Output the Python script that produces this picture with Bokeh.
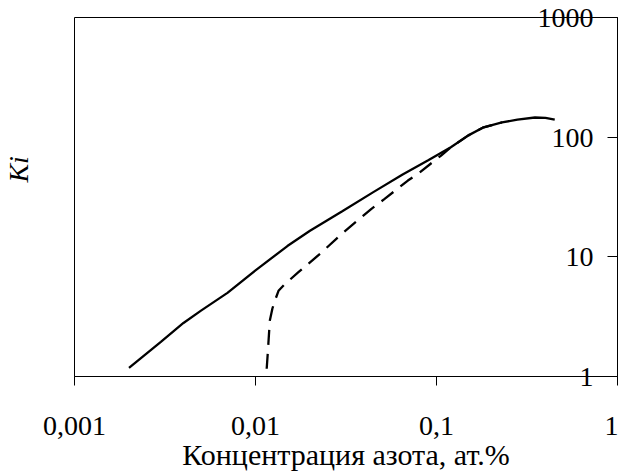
import math
from bokeh.plotting import figure
from bokeh.models import (Range1d, FixedTicker, CustomJSTickFormatter,
                          LinearAxis, LinearScale)
from bokeh.embed import file_html
from bokeh.resources import INLINE

# Solid curve
solid_x = [0.0020, 0.0030, 0.0040, 0.0050, 0.0070, 0.0100, 0.0150, 0.0200,
           0.0300, 0.0450, 0.0650, 0.0900, 0.1200, 0.1500, 0.1800, 0.2300,
           0.2800, 0.3500, 0.4000, 0.4500]
solid_y = [1.18, 1.95, 2.80, 3.55, 5.0, 7.7, 12.3, 16.5,
           23.9, 34.9, 48.7, 64.0, 82.4, 103.5, 120.0, 133.0,
           140.0, 146.0, 145.0, 140.0]

# Dashed curve
dash_x = [0.01153, 0.0117, 0.0120, 0.0124, 0.0128, 0.0134, 0.0145, 0.0172,
          0.0232, 0.0300, 0.0437, 0.0517, 0.0695, 0.0789, 0.1060, 0.1200,
          0.1500, 0.1800, 0.2300]
dash_y = [1.16, 1.6, 2.94, 3.7, 4.3, 5.2, 5.9, 7.4,
          10.9, 15.6, 25.2, 30.5, 43.4, 49.4, 70.2, 82.4,
          103.5, 120.0, 133.0]

x_ticks = [0.001, 0.01, 0.1, 1]
x_tick_labels = ["0,001", "0,01", "0,1", "1"]
y_ticks = [1, 10, 100, 1000]
y_tick_labels = ["1", "10", "100", "1000"]

x_title = "Концентрация азота, ат.%"
y_title = "Ki"
y_title_pos = 0.577   # fraction of plot height (from bottom) where "Ki" sits

FONT = "Liberation Serif"
FS = "28px"
DIGIT_W = 14          # width of one digit at 28px
FIG_SPACE = "\u2007"  # digit-wide space, used to right-align the inner labels

p = figure(width=618, height=473, x_axis_type="log", y_axis_type="log",
           x_range=Range1d(x_ticks[0], x_ticks[-1]),
           y_range=Range1d(y_ticks[0], y_ticks[-1]),
           y_axis_location="right", output_backend="svg",
           toolbar_location=None, title=None,
           min_border_left=72, min_border_right=1, min_border_top=17,
           min_border_bottom=97)

p.background_fill_color = "white"
p.border_fill_color = "white"
p.outline_line_color = "black"
p.outline_line_width = 1
p.grid.visible = False

# bottom axis
xa = p.xaxis[0]
xa.ticker = FixedTicker(ticks=x_ticks)
xa.formatter = CustomJSTickFormatter(args=dict(tv=x_ticks, tl=x_tick_labels), code="""
let best = 0, d = Infinity;
for (let i = 0; i < tv.length; i++) {
  const e = Math.abs(Math.log10(tv[i]) - Math.log10(tick));
  if (e < d) { d = e; best = i; }
}
return tl[best];
""")
xa.major_tick_in = 0
xa.major_tick_out = 9
xa.minor_tick_line_color = None
xa.axis_line_color = "black"
xa.major_tick_line_color = "black"
xa.major_label_text_font = FONT
xa.major_label_text_font_size = FS
xa.major_label_text_color = "black"
xa.major_label_standoff = 31
xa.axis_label = x_title
xa.axis_label_text_font = FONT
xa.axis_label_text_font_size = "30px"
xa.axis_label_text_font_style = "normal"
xa.axis_label_text_color = "black"
xa.axis_label_standoff = 0

# right axis: line + inward ticks; labels pulled inside the plot, right-aligned
maxlen = max(len(s) for s in y_tick_labels)
padded = [FIG_SPACE * (maxlen - len(s)) + s for s in y_tick_labels]
ya = p.yaxis[0]
ya.ticker = FixedTicker(ticks=y_ticks)
ya.formatter = CustomJSTickFormatter(args=dict(tv=y_ticks, tl=padded), code="""
let best = 0, d = Infinity;
for (let i = 0; i < tv.length; i++) {
  const e = Math.abs(Math.log10(tv[i]) - Math.log10(tick));
  if (e < d) { d = e; best = i; }
}
return tl[best];
""")
ya.major_tick_in = 10
ya.major_tick_out = 0
ya.minor_tick_line_color = None
ya.major_label_standoff = -(24 + DIGIT_W * maxlen)
ya.axis_line_color = "black"
ya.major_tick_line_color = "black"
ya.major_label_text_font = FONT
ya.major_label_text_font_size = FS
ya.major_label_text_color = "black"

# "Ki" title on the left
p.extra_y_ranges = {"ki": Range1d(0, 1)}
p.extra_y_scales = {"ki": LinearScale()}
ka = LinearAxis(y_range_name="ki", ticker=FixedTicker(ticks=[y_title_pos]),
                formatter=CustomJSTickFormatter(args=dict(lab=y_title), code="return lab;"),
                axis_line_color=None, major_tick_line_color=None,
                minor_tick_line_color=None, major_tick_in=0, major_tick_out=0,
                major_label_orientation="vertical", major_label_standoff=40,
                major_label_text_font=FONT, major_label_text_font_size=FS,
                major_label_text_font_style="italic", major_label_text_color="black")
p.add_layout(ka, "left")

p.line(solid_x, solid_y, line_color="black", line_width=2.3)
p.line(dash_x, dash_y, line_color="black", line_width=2.3, line_dash="15 9")

open("out.html", "w").write(file_html(p, INLINE))
